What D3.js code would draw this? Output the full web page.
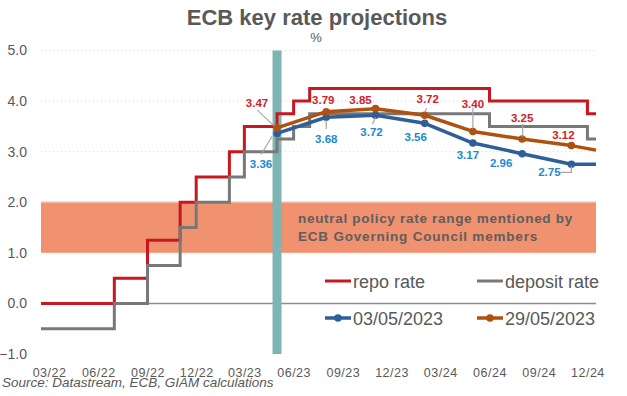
<!DOCTYPE html>
<html>
<head>
<meta charset="utf-8">
<script src="https://cdn.jsdelivr.net/npm/d3@7"></script>
<style>
  body { margin: 0; background: #fff; }
  svg text { font-family: "Liberation Sans", Arial, sans-serif; }
</style>
</head>
<body>
<div id="chart"></div>
<script>
// policy rates, month of each step change (step drawn from mid-month)
const stepMonths = ["2022-03", "2022-07", "2022-09", "2022-11", "2022-12", "2023-02", "2023-03", "2023-05", "2023-06", "2023-07", "2024-06", "2024-12"];
const repoValues = [0, 0.5, 1.25, 2.0, 2.5, 3.0, 3.5, 3.75, 4.0, 4.25, 4.0, 3.75];
const depositValues = [-0.5, 0, 0.75, 1.5, 2.0, 2.5, 3.0, 3.25, 3.5, 3.75, 3.5, 3.25];

// market projections of the deposit rate
const projMonths = ["2023-05", "2023-08", "2023-11", "2024-02", "2024-05", "2024-08", "2024-11"];
const proj0305 = [3.36, 3.68, 3.72, 3.56, 3.17, 2.96, 2.75];
const proj2905 = [3.47, 3.79, 3.85, 3.72, 3.40, 3.25, 3.12];
const proj0305End = 2.75;   // value at right edge, no marker
const proj2905End = 3.03;

const cutoffMonth = "2023-05";
const neutralRange = [1.0, 2.0];

const yTicks = [-1, 0, 1, 2, 3, 4, 5];
const xTickLabels = ["03/22", "06/22", "09/22", "12/22", "03/23", "06/23", "09/23", "12/23", "03/24", "06/24", "09/24", "12/24"];

// label offsets from the marker (layout only)
const lab2905 = [[-20, -25], [-3, -12], [-15, -9], [3, -16], [0, -28], [0, -21], [-8, -11]];
const lab0305 = [[-16, 30], [0, 21.5], [-4, 17], [-9, 13.5], [-5, 11.5], [-21, 9.5], [-22, 8]];
const lead2905 = [[[-20, -18], [-3, -2]], null, null, [[2, -7], [0, -3]], [[0, -24], [0, -3]], [[0.5, -15], [0.5, -2]], null];
const lead0305 = [[[-16, 21], [-5, 3]], [[0, 3], [0, 12]], [[0, 2], [-3, 9]], null, null, null, [[-11, 8], [0, 8], [0, 2]]];

const W = 627, H = 396;
const red = "#c8171f", grey = "#787878", blue = "#2e5f98", brown = "#b0520f";
const redLab = "#d42029", blueLab = "#1a8bd0", textCol = "#595959";

const svg = d3.select("#chart").append("svg")
    .attr("width", W)
    .attr("height", H);

const parseMonth = d3.timeParse("%Y-%m");
const parseTick = d3.timeParse("%m/%y");
const mid = d => new Date(d.getFullYear(), d.getMonth(), 16);

const xStart = new Date(2022, 2, 1), xEnd = new Date(2025, 0, 1);
const x = d3.scaleTime().domain([xStart, xEnd]).range([41, 596]);
const y = d3.scaleLinear().domain([-1, 5]).range([354, 50.5]);

// neutral rate band
svg.append("rect")
    .attr("x", x(xStart))
    .attr("y", y(neutralRange[1]))
    .attr("width", x(xEnd) - x(xStart))
    .attr("height", y(neutralRange[0]) - y(neutralRange[1]))
    .attr("fill", "#f0916f");
svg.append("line")
    .attr("x1", x(xStart)).attr("x2", x(xEnd))
    .attr("y1", y(neutralRange[1])).attr("y2", y(neutralRange[1]))
    .attr("stroke", "#f6b8a2").attr("stroke-width", 1.5);

// faint gridlines
svg.append("g").selectAll("line")
    .data(yTicks.filter(d => d > 0))
    .join("line")
    .attr("x1", x(xStart)).attr("x2", x(xEnd))
    .attr("y1", d => y(d)).attr("y2", d => y(d))
    .attr("stroke", "#dcd0d0")
    .attr("stroke-dasharray", "1,3");

// zero line
svg.append("line")
    .attr("x1", x(xStart)).attr("x2", x(xEnd))
    .attr("y1", y(0)).attr("y2", y(0))
    .attr("stroke", "#8c8c8c").attr("stroke-width", 1.5);

// y axis
const axisY = d3.axisLeft(y).tickValues(yTicks).tickFormat(d3.format(".1f")).tickSize(0).tickPadding(14);
svg.append("g")
    .attr("transform", `translate(${x(xStart)},0)`)
    .call(axisY)
    .call(g => g.select(".domain").remove())
    .call(g => g.selectAll("text").attr("fill", textCol).style("font-size", "14px"));

// x axis, labels centred on each month
const axisX = d3.axisBottom(x)
    .tickValues(xTickLabels.map(t => mid(parseTick(t))))
    .tickFormat(d3.timeFormat("%m/%y"))
    .tickSize(0).tickPadding(3);
svg.append("g")
    .attr("transform", `translate(0,${y(-1) + 11})`)
    .call(axisX)
    .call(g => g.select(".domain").remove())
    .call(g => g.selectAll("text").attr("fill", textCol).style("font-size", "12.5px").style("letter-spacing", "0.5px"));

// band text
const bandText = svg.append("text")
    .attr("x", 298)
    .attr("fill", "#5e5e5e")
    .style("font-size", "13.5px")
    .style("font-weight", "bold");
bandText.append("tspan").attr("x", 298).attr("y", 223).style("letter-spacing", "0.7px")
    .text("neutral policy rate range mentioned by");
bandText.append("tspan").attr("x", 298).attr("y", 240.5).style("letter-spacing", "0.8px")
    .text("ECB Governing Council members");

// cut-off bar
svg.append("rect")
    .attr("x", x(mid(parseMonth(cutoffMonth))) - 4.5)
    .attr("y", y(5))
    .attr("width", 9)
    .attr("height", y(-1) - y(5))
    .attr("fill", "#7fb4b4");

// step lines
const stepData = vals => {
    const pts = stepMonths.map((m, i) => [i === 0 ? xStart : mid(parseMonth(m)), vals[i]]);
    pts.push([xEnd, vals[vals.length - 1]]);
    return pts;
};
const stepLine = d3.line().x(d => x(d[0])).y(d => y(d[1])).curve(d3.curveStepAfter);

svg.append("path")
    .attr("d", stepLine(stepData(repoValues)))
    .attr("fill", "none").attr("stroke", red).attr("stroke-width", 3);
svg.append("path")
    .attr("d", stepLine(stepData(depositValues)))
    .attr("fill", "none").attr("stroke", grey).attr("stroke-width", 3);

// projections
const projLine = d3.line().x(d => x(d[0])).y(d => y(d[1]));
function drawProj(vals, endVal, col, labCol, offs, leads) {
    const pts = projMonths.map((m, i) => [mid(parseMonth(m)), vals[i]]);
    svg.append("path")
        .attr("d", projLine(pts.concat([[xEnd, endVal]])))
        .attr("fill", "none").attr("stroke", col).attr("stroke-width", 3.5)
        .attr("stroke-linejoin", "round");
    svg.append("g").selectAll("circle")
        .data(pts)
        .join("circle")
        .attr("cx", d => x(d[0])).attr("cy", d => y(d[1]))
        .attr("r", 3.8).attr("fill", col);
    pts.forEach((d, i) => {
        const px = x(d[0]), py = y(d[1]);
        if (leads[i]) {
            svg.append("polyline")
                .attr("points", leads[i].map(p => [px + p[0], py + p[1]].join(",")).join(" "))
                .attr("fill", "none").attr("stroke", "#a6a6a6").attr("stroke-width", 1.2);
        }
        svg.append("text")
            .attr("x", px + offs[i][0]).attr("y", py + offs[i][1])
            .attr("dy", "0.36em")
            .attr("text-anchor", "middle")
            .attr("fill", labCol)
            .style("font-size", "11.5px").style("font-weight", "bold")
            .text(d3.format(".2f")(d[1]));
    });
}
drawProj(proj0305, proj0305End, blue, blueLab, lab0305, lead0305);
drawProj(proj2905, proj2905End, brown, redLab, lab2905, lead2905);

// legend
const legend = [
    {name: "repo rate", col: red, x: 325, y: 281, dot: false},
    {name: "deposit rate", col: grey, x: 477, y: 281, dot: false},
    {name: "03/05/2023", col: blue, x: 325, y: 318, dot: true},
    {name: "29/05/2023", col: brown, x: 477, y: 318, dot: true}
];
const lg = svg.append("g").selectAll("g").data(legend).join("g")
    .attr("transform", d => `translate(${d.x},${d.y})`);
lg.append("line")
    .attr("x1", 0).attr("x2", 26)
    .attr("stroke", d => d.col).attr("stroke-width", d => d.dot ? 3.5 : 3);
lg.filter(d => d.dot).append("circle")
    .attr("cx", 13).attr("r", 3.8).attr("fill", d => d.col);
lg.append("text")
    .attr("x", 28).attr("y", 6.5)
    .attr("fill", textCol)
    .style("font-size", "18px")
    .text(d => d.name);

// title and notes
svg.append("text")
    .attr("x", 317).attr("y", 25)
    .attr("text-anchor", "middle")
    .attr("fill", textCol)
    .style("font-size", "22px").style("font-weight", "bold")
    .text("ECB key rate projections");
svg.append("text")
    .attr("x", 316).attr("y", 42)
    .attr("text-anchor", "middle")
    .attr("fill", textCol)
    .style("font-size", "13px")
    .text("%");
svg.append("text")
    .attr("x", 2).attr("y", 387)
    .attr("fill", textCol)
    .style("font-size", "13.5px").style("font-style", "italic")
    .text("Source: Datastream, ECB, GIAM calculations");
</script>
</body>
</html>
